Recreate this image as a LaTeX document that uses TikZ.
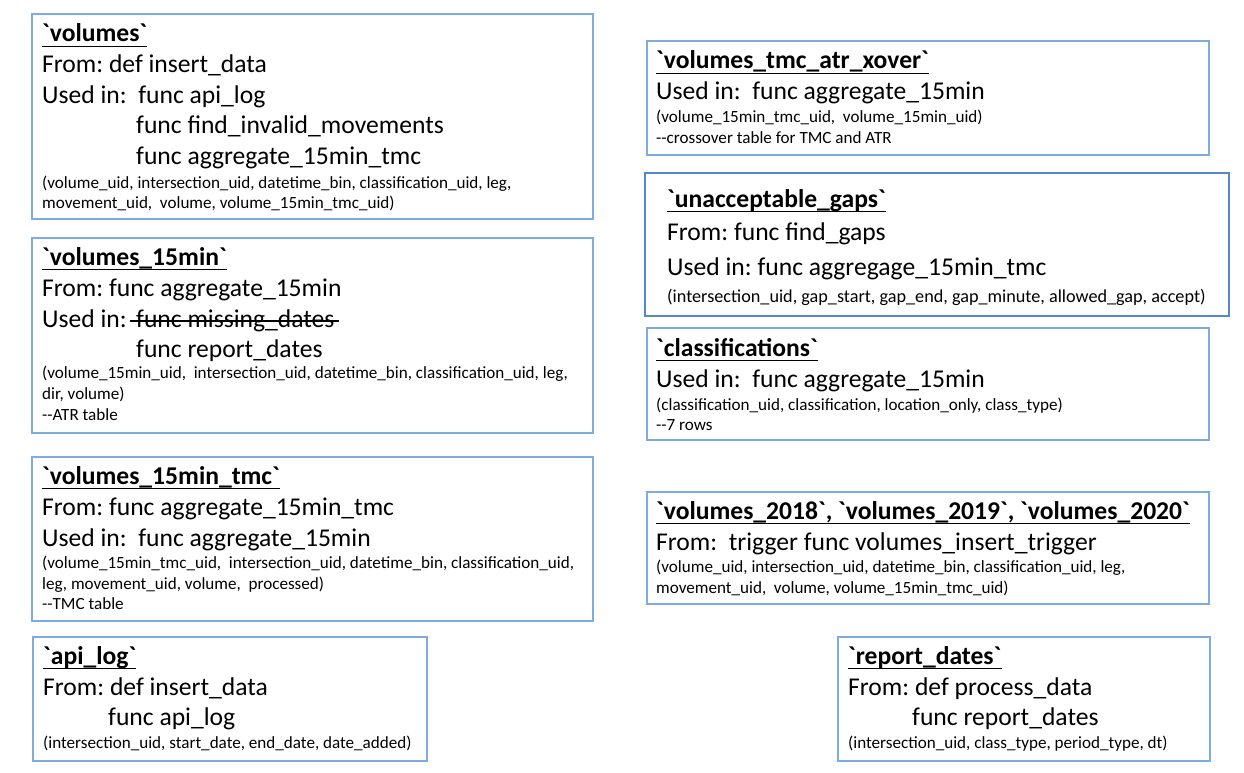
\documentclass[tikz,border=0pt]{standalone}
\usepackage{fontspec}
\setmainfont{Carlito}[Ligatures=TeXOff]
\newfontfamily\calfont{Carlito}[Ligatures=TeXOff]
\newcommand\bigfont{\calfont\frenchspacing\fontsize{25.6}{30}\selectfont}
\newcommand\smlfont{\calfont\frenchspacing\fontsize{17.1}{20}\selectfont}
\newcommand\ttlfont{\calfont\frenchspacing\bfseries\fontsize{25.6}{30}\selectfont}
\newcommand\bq{\symbol{96}}
\definecolor{boxblue}{RGB}{125,172,224}
\definecolor{gapblue}{RGB}{84,136,204}
\tikzset{
  tbl/.style={draw=boxblue, line width=1.7pt, anchor=north west, inner sep=0pt, outer sep=0pt},
  ttl/.style={anchor=base west, inner sep=0pt, font=\ttlfont},
  big/.style={anchor=base west, inner sep=0pt, font=\bigfont},
  sml/.style={anchor=base west, inner sep=0pt, font=\smlfont},
  uline/.style={line width=1.8pt},
  strike/.style={line width=1.5pt},
}
\begin{document}
\begin{tikzpicture}[x=1pt,y=-1pt]
\useasboundingbox[fill=white] (0,0) rectangle (1244,773);

% table boxes
\node[tbl, minimum width=561pt, minimum height=205pt] (b1) at (32,14) {};
\node[tbl, minimum width=561pt, minimum height=195pt] (b2) at (32,238) {};
\node[tbl, minimum width=561pt, minimum height=164pt] (b3) at (32,457) {};
\node[tbl, minimum width=394pt, minimum height=124pt] (b4) at (33,637) {};
\node[tbl, minimum width=562pt, minimum height=114pt] (b5) at (647,41) {};
\node[tbl, draw=gapblue, line width=2.2pt, minimum width=584pt, minimum height=143pt] (b6) at (645,173) {};
\node[tbl, minimum width=562pt, minimum height=112pt] (b7) at (647,328) {};
\node[tbl, minimum width=562pt, minimum height=112pt] (b8) at (647,492) {};
\node[tbl, minimum width=372pt, minimum height=124pt] (b9) at (838,637) {};

% volumes
\node[ttl] (t1) at (42,42) {\bq volumes\bq};
\node[big] (l11) at (42,73) {From: def insert\_data};
\node[big] (l12) at (42,103) {Used in:\ \ func api\_log};
\node[big] (l13) at (136,134) {func find\_invalid\_movements};
\node[big] (l14) at (136,164) {func aggregate\_15min\_tmc};
\node[sml] (s11) at (42,188) {(volume\_uid, intersection\_uid, datetime\_bin, classification\_uid, leg,};
\node[sml] (s12) at (42,208) {movement\_uid,\ \ volume, volume\_15min\_tmc\_uid)};

% volumes_15min
\node[ttl] (t2) at (42,265) {\bq volumes\_15min\bq};
\node[big] (l21) at (42,296) {From: func aggregate\_15min};
\node[big] (l22) at (42,327) {Used in:};
\node[big] (l23) at (136,327) {func missing\_dates};
\node[big] (l24) at (136,357) {func report\_dates};
\node[sml] (s21) at (42,378) {(volume\_15min\_uid,\ \ intersection\_uid, datetime\_bin, classification\_uid, leg,};
\node[sml] (s22) at (42,399) {dir, volume)};
\node[sml] (s23) at (42,420) {--ATR table};

% volumes_15min_tmc
\node[ttl] (t3) at (42,484) {\bq volumes\_15min\_tmc\bq};
\node[big] (l31) at (42,515) {From: func aggregate\_15min\_tmc};
\node[big] (l32) at (42,546) {Used in:\ \ func aggregate\_15min};
\node[sml] (s31) at (42,568) {(volume\_15min\_tmc\_uid,\ \ intersection\_uid, datetime\_bin, classification\_uid,};
\node[sml] (s32) at (42,589) {leg, movement\_uid, volume,\ \ processed)};
\node[sml] (s33) at (42,609) {--TMC table};

% api_log
\node[ttl] (t4) at (43,664) {\bq api\_log\bq};
\node[big] (l41) at (43,695) {From: def insert\_data};
\node[big] (l42) at (108,725) {func api\_log};
\node[sml] (s41) at (43,748) {(intersection\_uid, start\_date, end\_date, date\_added)};

% volumes_tmc_atr_xover
\node[ttl] (t5) at (656,69) {\bq volumes\_tmc\_atr\_xover\bq};
\node[big] (l51) at (656,100) {Used in:\ \ func aggregate\_15min};
\node[sml] (s51) at (656,123) {(volume\_15min\_tmc\_uid,\ \ volume\_15min\_uid)};
\node[sml] (s52) at (656,143) {--crossover table for TMC and ATR};

% unacceptable_gaps
\node[ttl] (t6) at (667,207) {\bq unacceptable\_gaps\bq};
\node[big] (l61) at (667,240) {From: func find\_gaps};
\node[big] (l62) at (667,275) {Used in: func aggregage\_15min\_tmc};
\node[sml, font=\smlfont\fontsize{18.2}{21}\selectfont] (s61) at (667,302) {(intersection\_uid, gap\_start, gap\_end, gap\_minute, allowed\_gap, accept)};

% classifications
\node[ttl] (t7) at (656,356) {\bq classifications\bq};
\node[big] (l71) at (656,387) {Used in:\ \ func aggregate\_15min};
\node[sml] (s71) at (656,410) {(classification\_uid, classification, location\_only, class\_type)};
\node[sml] (s72) at (656,430) {--7 rows};

% yearly volumes
\node[ttl] (t8) at (656,519) {\bq volumes\_2018\bq, \bq volumes\_2019\bq, \bq volumes\_2020\bq};
\node[big] (l81) at (656,550) {From:\ \ trigger func volumes\_insert\_trigger};
\node[sml] (s81) at (656,572) {(volume\_uid, intersection\_uid, datetime\_bin, classification\_uid, leg,};
\node[sml] (s82) at (656,593) {movement\_uid,\ \ volume, volume\_15min\_tmc\_uid)};

% report_dates
\node[ttl] (t9) at (848,664) {\bq report\_dates\bq};
\node[big] (l91) at (848,695) {From: def process\_data};
\node[big] (l92) at (912,725) {func report\_dates};
\node[sml] (s91) at (848,748) {(intersection\_uid, class\_type, period\_type, dt)};

% title underlines
\foreach \t in {t1,t2,t3,t4,t5,t6,t7,t8,t9}
  \draw[uline] ([yshift=-4.5pt]\t.base west) -- ([yshift=-4.5pt]\t.base east);

% struck-out function
\draw[strike] ([xshift=-6pt,yshift=6pt]l23.base west) -- ([xshift=4pt,yshift=6pt]l23.base east);
\end{tikzpicture}
\end{document}
